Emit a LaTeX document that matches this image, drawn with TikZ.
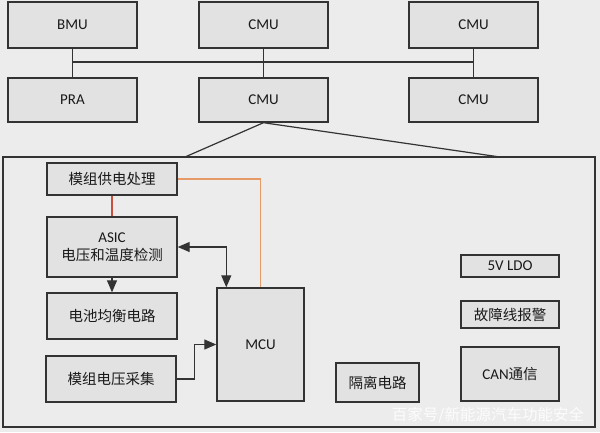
\documentclass[tikz,border=0pt]{standalone}
\usepackage{fontspec}
\setmainfont{Carlito}
\newfontfamily\cjk{Noto Sans CJK SC}
\usetikzlibrary{arrows.meta,calc}
\definecolor{bgc}{HTML}{ECECEC}
\definecolor{boxc}{HTML}{E2E2E2}
\definecolor{linec}{HTML}{333333}
\definecolor{redl}{HTML}{C8503C}
\definecolor{orl}{HTML}{E59A68}
\begin{document}
\begin{tikzpicture}[x=1pt,y=-1pt,
  box/.style={draw=linec,line width=1.4pt,fill=boxc,inner sep=0pt,align=center,
    font=\fontsize{15}{17}\selectfont,text=black!90},
  cn/.style={font=\fontsize{14.5}{17}\selectfont\cjk},
  conn/.style={draw=linec,line width=1.2pt},
  arr/.style={conn,-{Triangle[length=12pt,width=10pt]}},
  darr/.style={conn,{Triangle[length=12pt,width=10pt]}-{Triangle[length=12pt,width=10pt]}}]
\fill[bgc] (0,0) rectangle (600,432);
\useasboundingbox (0,0) rectangle (600,432);
% top rows
\node[box,minimum width=129pt,minimum height=46pt] (bmu) at (72.5,25) {BMU};
\node[box,minimum width=129pt,minimum height=46pt] (cmu1) at (263.5,25) {CMU};
\node[box,minimum width=129pt,minimum height=46pt] (cmu2) at (473.5,25) {CMU};
\node[box,minimum width=129pt,minimum height=44pt] (pra) at (72.5,100) {PRA};
\node[box,minimum width=129pt,minimum height=44pt] (cmu3) at (263.5,100) {CMU};
\node[box,minimum width=129pt,minimum height=44pt] (cmu4) at (473.5,100) {CMU};
\coordinate (busL) at (72.5,62);
\coordinate (busR) at (473.5,62);
\draw[conn] (bmu) -- (pra);
\draw[conn] (cmu1) -- (cmu3);
\draw[conn] (cmu2) -- (cmu4);
\draw[conn] (busL) -- (busR);
% big box
\node[draw=linec,line width=1.4pt,fill=bgc,minimum width=592pt,minimum height=270pt,inner sep=0pt] (big) at (299,292) {};
\coordinate (tl) at (185,157);
\coordinate (tr) at (500,157);
\draw[conn] (tl) -- (cmu3.south) -- (tr);
% inner boxes
\node[box,cn,minimum width=130pt,minimum height=32pt] (sup) at (112,179) {模组供电处理};
\node[box,minimum width=130pt,minimum height=60pt] (asic) at (112,247) {ASIC\\[1pt]{\cjk\fontsize{14.5}{17}\selectfont 电压和温度检测}};
\node[box,cn,minimum width=130pt,minimum height=46pt] (bal) at (112,316) {电池均衡电路};
\node[box,cn,minimum width=130pt,minimum height=46pt] (col) at (111,379) {模组电压采集};
\node[box,minimum width=87pt,minimum height=113pt] (mcu) at (260.5,344.5) {MCU};
\node[box,minimum width=98pt,minimum height=22pt] (ldo) at (510,266) {5V LDO};
\node[box,cn,minimum width=98pt,minimum height=27pt] (fault) at (510,314.5) {故障线报警};
\node[box,minimum width=98pt,minimum height=54pt] (can) at (510,374) {CAN{\cjk\fontsize{14.5}{17}\selectfont 通信}};
\node[box,cn,minimum width=83pt,minimum height=39pt] (iso) at (377.5,382.5) {隔离电路};
% connectors
\draw[redl,line width=1.2pt] (sup) -- (asic);
\draw[orl,line width=1.2pt] (sup.east) -| (mcu.north);
\coordinate (mt) at ($(mcu.north west)+(10,0)$);
\draw[darr] (asic.east) -| (mt);
\draw[arr] (asic) -- (bal);
\draw[arr] (col.east) -- ++(18,0) |- (mcu.west);
% watermark
\node[text=white,opacity=0.85,font=\fontsize{15.5}{18}\selectfont\cjk,inner sep=0pt] (wm) at (488,415) {百家号/新能源汽车功能安全};
\end{tikzpicture}
\end{document}
